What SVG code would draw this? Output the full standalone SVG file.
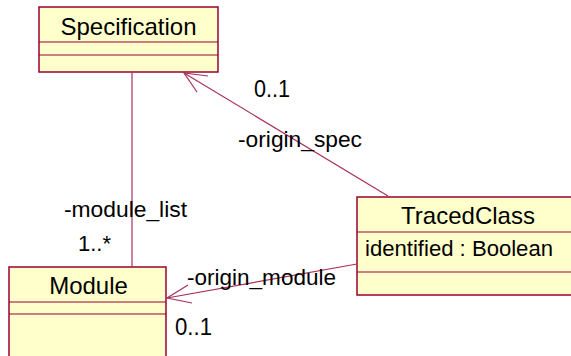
<svg xmlns="http://www.w3.org/2000/svg" width="571" height="356" viewBox="0 0 571 356">
<style>
.box{fill:#FFFFCC;stroke:#990033;stroke-width:1.5}
.div{stroke:#990033;stroke-width:1.2;fill:none}
.name{font-family:"Liberation Sans",Arial,sans-serif;font-size:24px;fill:#000;text-anchor:middle}
.lbl{font-family:"Liberation Sans",Arial,sans-serif;font-size:22px;fill:#000}
.mult{font-family:"Liberation Sans",Arial,sans-serif;font-size:23px;fill:#000}
.conn{stroke:#A8305A;stroke-width:1.2;fill:none}
</style>
<rect width="571" height="356" fill="#FFFFFF"/>
<g id="Specification">
<rect class="box" x="39" y="7" width="179" height="65"/>
<line class="div" x1="39" y1="42" x2="218" y2="42"/>
<line class="div" x1="39" y1="55" x2="218" y2="55"/>
<text class="name" x="128.5" y="35">Specification</text>
</g>
<g id="TracedClass">
<rect class="box" x="357" y="197" width="220" height="98"/>
<line class="div" x1="357" y1="232" x2="577" y2="232"/>
<line class="div" x1="357" y1="272" x2="577" y2="272"/>
<text class="name" x="468" y="224">TracedClass</text>
<text class="lbl" x="365" y="256" textLength="188" lengthAdjust="spacingAndGlyphs">identified : Boolean</text>
</g>
<g id="Module">
<rect class="box" x="9" y="267" width="157" height="100"/>
<line class="div" x1="9" y1="302" x2="166" y2="302"/>
<line class="div" x1="9" y1="314" x2="166" y2="314"/>
<text class="name" x="88.5" y="294">Module</text>
</g>
<g id="connectors">
<line class="conn" x1="132" y1="72" x2="132" y2="267"/>
<line class="conn" x1="388" y1="196" x2="184" y2="73"/>
<polyline class="conn" points="208,76 184,73 197,92"/>
<line class="conn" x1="357" y1="264" x2="167" y2="298"/>
<polyline class="conn" points="188,285 167,298 192,303"/>
</g>
<g id="labels">
<text class="mult" x="254" y="97" textLength="36" lengthAdjust="spacingAndGlyphs">0..1</text>
<text class="lbl" x="238" y="147" textLength="124" lengthAdjust="spacingAndGlyphs">-origin_spec</text>
<text class="lbl" x="64" y="217" textLength="123" lengthAdjust="spacingAndGlyphs">-module_list</text>
<text class="lbl" x="78" y="251">1..*</text>
<text class="lbl" x="187" y="285" textLength="149" lengthAdjust="spacingAndGlyphs">-origin_module</text>
<text class="mult" x="175" y="335" textLength="37" lengthAdjust="spacingAndGlyphs">0..1</text>
</g>
</svg>
